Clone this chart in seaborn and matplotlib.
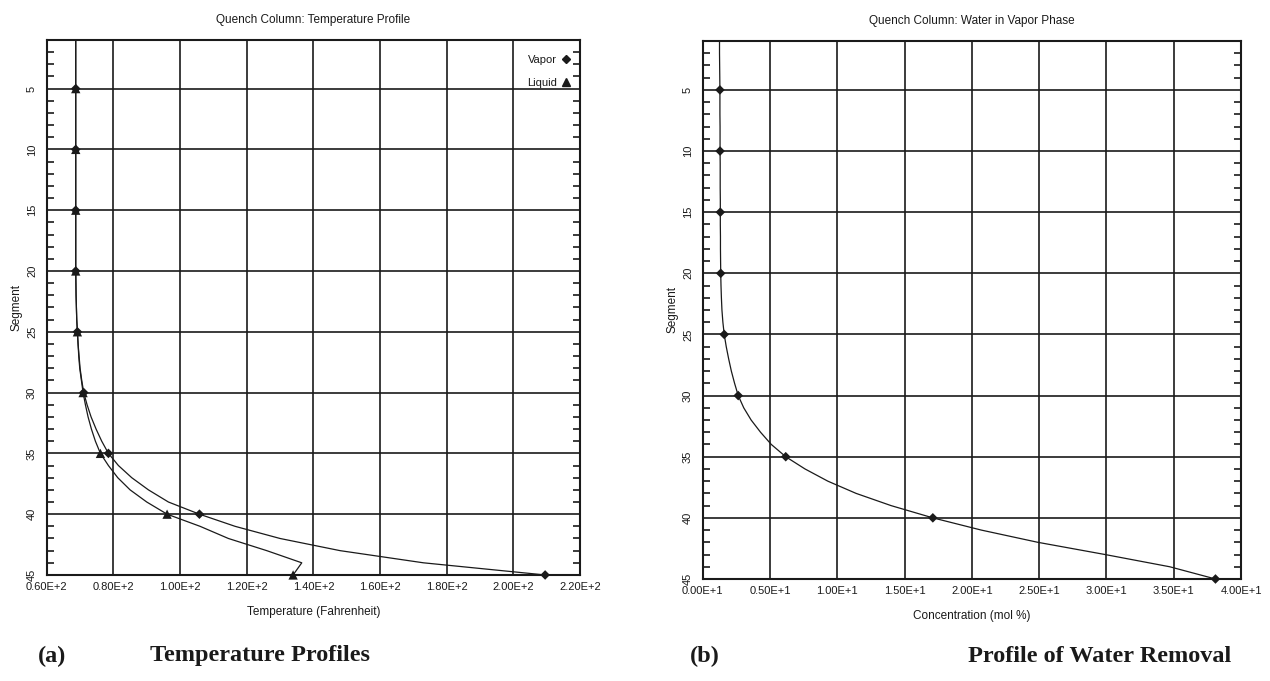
import numpy as np
import matplotlib
matplotlib.use("Agg")
import matplotlib.pyplot as plt
import seaborn as sns
import pandas as pd
from matplotlib.lines import Line2D
from matplotlib.ticker import MultipleLocator

# ==========================================
# Data
# ==========================================
segments = [1, 2, 3, 4, 5, 6, 7, 8, 9, 10, 11, 12, 13, 14, 15, 16, 17, 18, 19, 20,
            21, 22, 23, 24, 25, 26, 27, 28, 29, 30, 31, 32, 33, 34, 35, 36, 37, 38, 39, 40,
            41, 42, 43, 44, 45]

vapor_temp = [68.7, 68.7, 68.7, 68.7, 68.7, 68.7, 68.7, 68.7, 68.7, 68.7,
              68.7, 68.7, 68.7, 68.7, 68.7, 68.7, 68.7, 68.7, 68.7, 68.7,
              68.75, 68.8, 68.9, 69.0, 69.2, 69.4, 69.7, 70.0, 70.5, 71.1,
              72.1, 73.3, 74.8, 76.5, 78.5, 81.5, 85.5, 90.5, 96.5, 105.8,
              116.5, 130.0, 148.0, 173.0, 209.5]

liquid_temp = [68.7, 68.7, 68.7, 68.7, 68.7, 68.7, 68.7, 68.7, 68.7, 68.7,
               68.7, 68.7, 68.7, 68.7, 68.7, 68.7, 68.7, 68.7, 68.7, 68.7,
               68.75, 68.8, 68.9, 69.0, 69.2, 69.4, 69.6, 69.9, 70.4, 70.9,
               71.6, 72.4, 73.4, 74.6, 76.1, 78.5, 81.3, 85.0, 90.0, 96.1,
               106.0, 114.5, 126.0, 136.5, 133.9]

water_conc = [1.25, 1.25, 1.26, 1.27, 1.28, 1.28, 1.28, 1.29, 1.29, 1.29,
              1.30, 1.30, 1.30, 1.31, 1.31, 1.31, 1.32, 1.32, 1.33, 1.34,
              1.36, 1.39, 1.43, 1.50, 1.60, 1.75, 1.93, 2.13, 2.37, 2.64,
              3.05, 3.60, 4.30, 5.10, 6.17, 7.60, 9.30, 11.4, 14.0, 17.1,
              20.7, 24.9, 29.9, 34.7, 38.1]

temp_ticks = [60, 80, 100, 120, 140, 160, 180, 200, 220]
temp_tick_labels = ["0.60E+2", "0.80E+2", "1.00E+2", "1.20E+2", "1.40E+2",
                    "1.60E+2", "1.80E+2", "2.00E+2", "2.20E+2"]
conc_ticks = [0, 5, 10, 15, 20, 25, 30, 35, 40]
conc_tick_labels = ["0.00E+1", "0.50E+1", "1.00E+1", "1.50E+1", "2.00E+1",
                    "2.50E+1", "3.00E+1", "3.50E+1", "4.00E+1"]
seg_ticks = [5, 10, 15, 20, 25, 30, 35, 40, 45]

df = pd.DataFrame({"segment": segments, "vapor": vapor_temp,
                   "liquid": liquid_temp, "water": water_conc})
marked = df[df["segment"] % 5 == 0]

sns.set_theme(style="white")
plt.rcParams['font.family'] = ['Liberation Sans Narrow', 'Liberation Sans', 'DejaVu Sans']
plt.rcParams['text.color'] = 'k'
plt.rcParams['axes.labelcolor'] = 'k'
plt.rcParams['xtick.color'] = 'k'
plt.rcParams['ytick.color'] = 'k'

fig = plt.figure(figsize=(12.7, 6.81), dpi=100)
ax1 = fig.add_axes([0.0368, 0.1557, 0.42, 0.7856])
ax2 = fig.add_axes([0.5533, 0.1498, 0.4239, 0.79])


def style_axes(ax, xlim, xticks, xlabels, title, xlabel):
    ax.set_xlim(xlim)
    ax.set_ylim(45, 1)
    ax.set_xticks(xticks)
    ax.set_xticklabels(xlabels)
    ax.set_yticks(seg_ticks)
    ax.set_yticklabels([str(s) for s in seg_ticks], rotation=90, va="center")
    ax.yaxis.set_minor_locator(MultipleLocator(1))
    ax.tick_params(axis="y", which="minor", direction="in", left=True, right=True,
                   length=5, width=1.2, color="k")
    ax.tick_params(axis="y", which="major", direction="in", left=True, right=True,
                   length=0, labelsize=8, pad=7)
    ax.tick_params(axis="x", which="major", length=0, labelsize=8, pad=5)
    ax.grid(True, which="major", color="k", lw=1.2)
    ax.grid(False, which="minor")
    for s in ax.spines.values():
        s.set_color("k")
        s.set_linewidth(1.5)
    ax.set_title(title, fontsize=8.5, pad=12)
    ax.set_xlabel(xlabel, fontsize=8.5, labelpad=10)
    ax.set_ylabel("Segment", fontsize=8.5, labelpad=3)


# (a) temperature profiles
sns.lineplot(data=df, x="vapor", y="segment", sort=False, estimator=None,
             color="k", lw=0.9, ax=ax1)
sns.lineplot(data=df, x="liquid", y="segment", sort=False, estimator=None,
             color="k", lw=0.9, ax=ax1)
sns.scatterplot(data=marked, x="vapor", y="segment", marker="D", s=24,
                color="k", edgecolor="none", ax=ax1, zorder=5, legend=False,
                clip_on=False)
sns.scatterplot(data=marked, x="liquid", y="segment", marker="^", s=45,
                color="k", edgecolor="none", ax=ax1, zorder=5, legend=False,
                clip_on=False)
style_axes(ax1, (60, 220), temp_ticks, temp_tick_labels,
           "Quench Column: Temperature Profile", "Temperature (Fahrenheit)")

handles = [Line2D([], [], marker="D", ls="none", color="k", markersize=4.5),
           Line2D([], [], marker="^", ls="none", color="k", markersize=6)]
ax1.legend(handles, ["Vapor", "Liquid"], loc="upper right",
           bbox_to_anchor=(1 - 10 / 533, 1 - 15 / 535), borderpad=0, borderaxespad=0,
           frameon=False, markerfirst=False, fontsize=8, handlelength=0.8,
           handletextpad=0.4, labelspacing=1.2)

# (b) water removal
sns.lineplot(data=df, x="water", y="segment", sort=False, estimator=None,
             color="k", lw=0.9, ax=ax2)
sns.scatterplot(data=marked, x="water", y="segment", marker="D", s=24,
                color="k", edgecolor="none", ax=ax2, zorder=5, legend=False,
                clip_on=False)
style_axes(ax2, (0, 40), conc_ticks, conc_tick_labels,
           "Quench Column: Water in Vapor Phase", "Concentration (mol %)")

# captions under the panels
cap = dict(fontsize=17.5, fontweight="bold", family="Liberation Serif",
           ha="left", va="center")
fig.text(38 / 1270, 1 - 656 / 681, "(a)", **cap)
fig.text(150 / 1270, 1 - 656 / 681, "Temperature Profiles", **cap)
fig.text(690 / 1270, 1 - 656 / 681, "(b)", **cap)
fig.text(968 / 1270, 1 - 656 / 681, "Profile of Water Removal", **cap)

fig.savefig("out.png", dpi=100)
